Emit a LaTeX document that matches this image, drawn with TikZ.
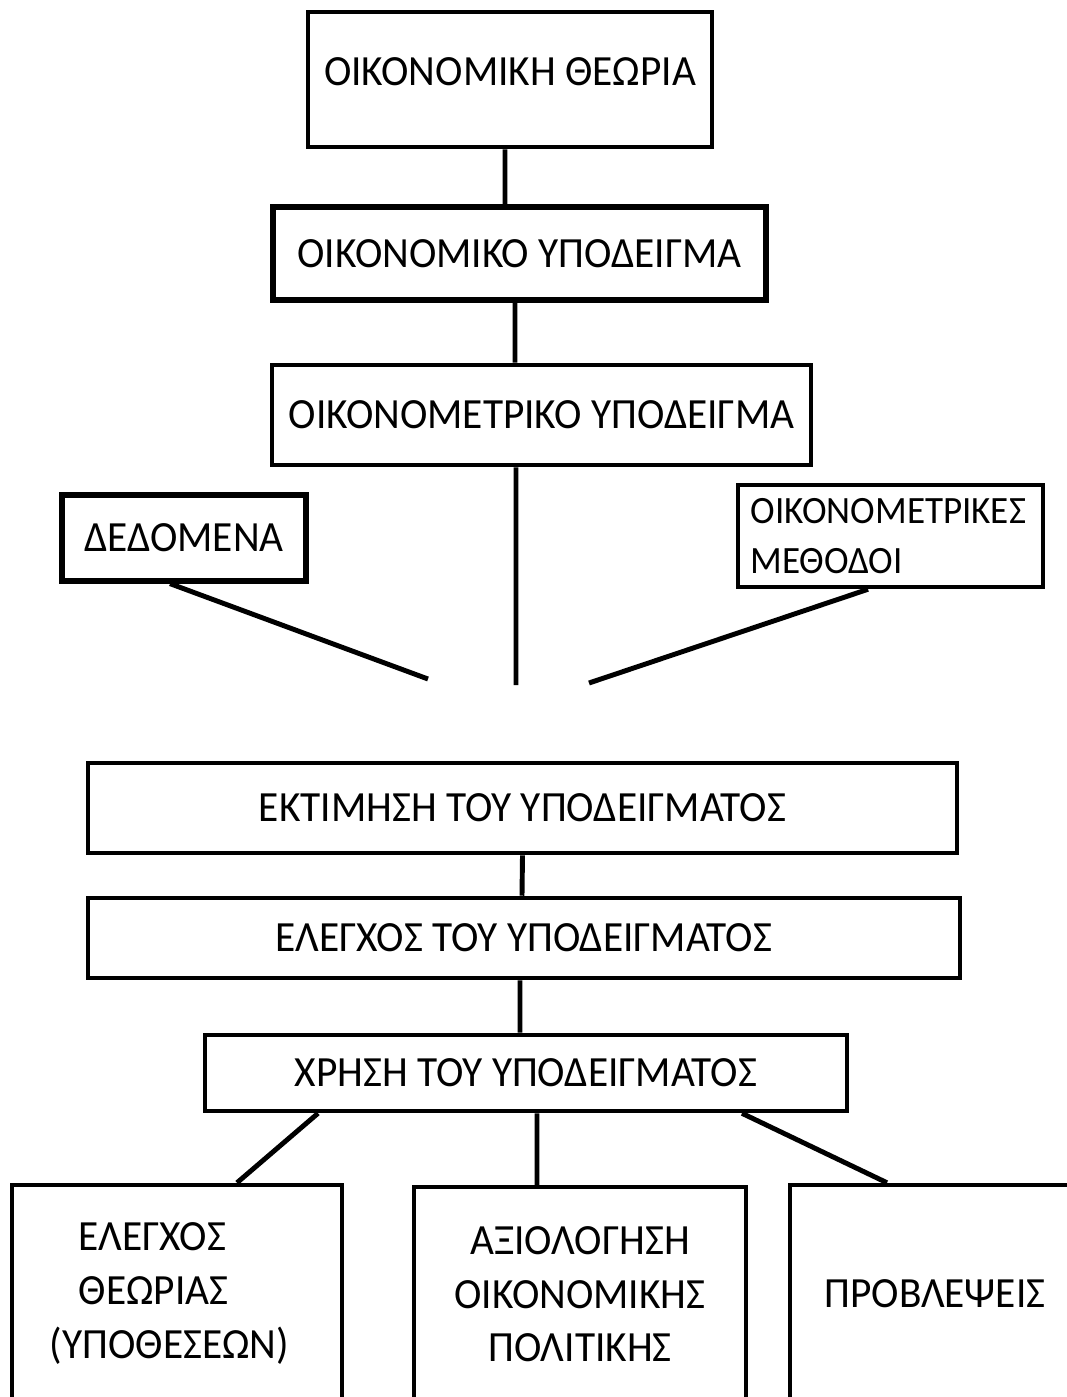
\documentclass[tikz,border=0pt]{standalone}
\usepackage{fontspec}
\setmainfont[FakeStretch=0.96]{Carlito}
\usetikzlibrary{positioning}
\tikzstyle{link} = [line width=2.8pt]

\begin{document}
\begin{tikzpicture}[
		x=0.02cm, y=-0.02cm,
		stage/.style={rectangle, draw, line width=2.6pt, inner sep=2pt, text centered},
		leaf/.style={rectangle, draw, line width=2.6pt, inner sep=2pt, align=center, minimum height=4.34cm},
		font=\fontsize{24.5}{30.5}\selectfont
		]
		\useasboundingbox (0,0) rectangle (1066,1397);
		% Theory and models
		\node[stage, text depth=0.3cm, minimum width=8.08cm, minimum height=2.7cm] (theory) at (510,79.5) {ΟΙΚΟΝΟΜΙΚΗ ΘΕΩΡΙΑ};
		\node[stage, line width=3.6pt, minimum width=9.86cm, minimum height=1.86cm] (ecmodel) at (519.5,253.5) {ΟΙΚΟΝΟΜΙΚΟ ΥΠΟΔΕΙΓΜΑ};
		\node[stage, minimum width=10.78cm, minimum height=2cm] (emodel) at (541.5,415) {ΟΙΚΟΝΟΜΕΤΡΙΚΟ ΥΠΟΔΕΙΓΜΑ};
		% Inputs
		\node[stage, line width=3pt, minimum width=4.88cm, minimum height=1.72cm] (data) at (184,538) {ΔΕΔΟΜΕΝΑ};
		\node[stage, font=\fontsize{22}{28.5}\selectfont, minimum width=6.1cm, minimum height=2.04cm, align=left, text width=5.6cm] (methods) at (890.5,536) {ΟΙΚΟΝΟΜΕΤΡΙΚΕΣ\\ΜΕΘΟΔΟΙ};
		\coordinate (dataend) at (428,679);
		\coordinate (midend) at (516,685);
		\coordinate (methend) at (589,683);
		% Estimation, testing, use
		\node[stage, minimum width=17.38cm, minimum height=1.8cm] (estim) at (522.5,808) {ΕΚΤΙΜΗΣΗ ΤΟΥ ΥΠΟΔΕΙΓΜΑΤΟΣ};
		\node[stage, minimum width=17.44cm, minimum height=1.6cm] (test) at (524,938) {ΕΛΕΓΧΟΣ ΤΟΥ ΥΠΟΔΕΙΓΜΑΤΟΣ};
		\node[stage, minimum width=12.84cm, minimum height=1.52cm] (use) at (526,1073) {ΧΡΗΣΗ ΤΟΥ ΥΠΟΔΕΙΓΜΑΤΟΣ};
		% Uses
		\node[leaf, align=left, minimum width=6.6cm] (hyp) at (177,1293.5) {\hspace*{0.58cm}ΕΛΕΓΧΟΣ\\\hspace*{0.58cm}ΘΕΩΡΙΑΣ\\(ΥΠΟΘΕΣΕΩΝ)\hspace*{0.3cm}};
		\node[leaf, minimum width=6.64cm, minimum height=4.3cm] (policy) at (580,1294.5) {ΑΞΙΟΛΟΓΗΣΗ\\ΟΙΚΟΝΟΜΙΚΗΣ\\ΠΟΛΙΤΙΚΗΣ};
		\node[leaf, minimum width=5.8cm] (forecast) at (935,1293.5) {ΠΡΟΒΛΕΨΕΙΣ};
		% Connectors
		\draw[link] ([xshift=-0.1cm]theory.south) -- ([xshift=-0.29cm]ecmodel.north);
		\draw[link] ([xshift=-0.09cm]ecmodel.south) -- ([xshift=-0.53cm]emodel.north);
		\draw[link] ([xshift=-0.51cm]emodel.south) -- (midend);
		\draw[link] ([xshift=-0.28cm]data.south) -- (dataend);
		\draw[link] ([xshift=-0.45cm]methods.south) -- (methend);
		\draw[link] (estim.south) -- ([xshift=-0.04cm]test.north);
		\draw[link] ([xshift=-0.08cm]test.south) -- ([xshift=-0.12cm]use.north);
		\draw[link] ([xshift=-4.16cm]use.south) -- ([xshift=1.2cm]hyp.north);
		\draw[link] ([xshift=0.22cm]use.south) -- ([xshift=-0.86cm]policy.north);
		\draw[link] ([xshift=4.32cm]use.south) -- ([xshift=-0.96cm]forecast.north);
\end{tikzpicture}
\end{document}
